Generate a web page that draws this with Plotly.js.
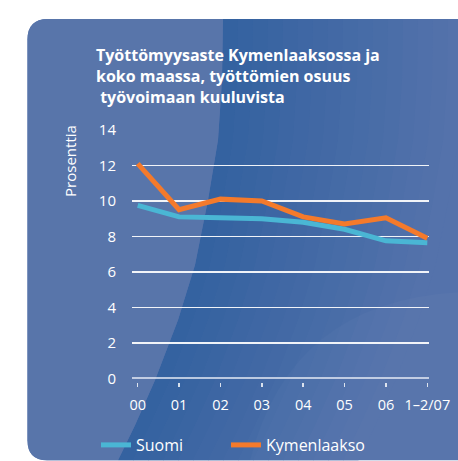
<!DOCTYPE html>
<html>
<head>
<meta charset="utf-8">
<script src="https://cdn.plot.ly/plotly-3.0.1.min.js"></script>
<style>
html,body{margin:0;padding:0;background:#fff;}
#chart{width:458px;height:461px;}
</style>
</head>
<body>
<div id="chart"></div>
<script>
// ---- data ----
const categories = ["00", "01", "02", "03", "04", "05", "06", "1–2/07"];
const suomi = [9.75, 9.1, 9.05, 9.0, 8.8, 8.4, 7.75, 7.65];
const kymenlaakso = [12.1, 9.5, 10.1, 10.0, 9.1, 8.7, 9.05, 7.9];
const yTicks = [0, 2, 4, 6, 8, 10, 12, 14];
const titleText = "Työttömyysaste Kymenlaaksossa ja<br>koko maassa, työttömien osuus<br> työvoimaan kuuluvista";
const yTitle = "Prosenttia";

// ---- geometry helpers (decoration only) ----
const W = 458, H = 461;
const PL = 132, PR = 429, PT = 129.1, PB = 381.8;
const fx = px => ((px - PL) / (PR - PL)).toFixed(4);
const fy = py => ((PB - py) / (PB - PT)).toFixed(4);
function pathFrom(cmds) {
  return cmds.map(c => c[0] + c.slice(1).map(p => fx(p[0]) + "," + fy(p[1])).join(" ")).join(" ");
}
function poly(points) {
  return points.map((p, i) => (i ? "L" : "M") + fx(p[0]) + "," + fy(p[1])).join(" ") + " Z";
}
const shapes = [];
// panel
shapes.push({type: "path", xref: "paper", yref: "paper", layer: "below", line: {width: 0},
  fillcolor: "rgb(84,114,171)",
  path: pathFrom([["M", [27.5, 40]], ["Q", [27.5, 19.3], [48, 19.3]], ["L", [448, 19.3]], ["Q", [458, 19.3], [462, 26]],
    ["L", [462, 460]], ["L", [47, 460]], ["Q", [27.5, 460], [27.5, 440]], ["Z"]])});
// diagonal gradient bands
const boundary = [[223, 19.3], [222, 80], [218, 140], [208, 200], [195, 265], [178, 320], [155, 380], [135, 425], [118, 460]];
const dark = [52, 98, 160], base = [84, 114, 171];
const N = 16, step = 15;
for (let i = 0; i < N; i++) {
  const t = i / (N - 1);
  const c = dark.map((d, k) => Math.round(d + (base[k] - d) * t));
  const a = boundary.map(p => [p[0] + i * step, p[1]]);
  const b = boundary.map(p => [p[0] + (i + 1) * step + 0.5, p[1]]).reverse();
  shapes.push({type: "path", xref: "paper", yref: "paper", layer: "below", line: {width: 0},
    fillcolor: "rgb(" + c.join(",") + ")", path: poly(a.concat(b))});
}
// faint lighter arc lower right
shapes.push({type: "path", xref: "paper", yref: "paper", layer: "below", line: {width: 0},
  fillcolor: "rgba(255,255,255,0.025)",
  path: pathFrom([["M", [250, 460]], ["Q", [290, 300], [462, 292]], ["L", [462, 460]], ["Z"]])});
// left light region
shapes.push({type: "path", xref: "paper", yref: "paper", layer: "below", line: {width: 0},
  fillcolor: "rgb(88,117,170)",
  path: pathFrom([["M", [27.5, 40]], ["Q", [27.5, 19.3], [48, 19.3]]].concat(boundary.map(p => ["L", p]))
    .concat([["L", [47, 460]], ["Q", [27.5, 460], [27.5, 440]], ["Z"]]))});

const traces = [
  {x: categories, y: suomi, name: "Suomi", type: "scatter", mode: "lines", legend: "legend",
   line: {color: "#4ab6d4", width: 5}},
  {x: categories, y: kymenlaakso, name: "Kymenlaakso", type: "scatter", mode: "lines", legend: "legend2",
   line: {color: "#f47a2b", width: 5}}
];

const font = "'Open Sans', 'Noto Sans', sans-serif";
const legendBase = {orientation: "h", xref: "container", yref: "container", xanchor: "left",
  y: 1 - 428 / H, yanchor: "top", font: {family: font, size: 16, color: "#ffffff"}, bgcolor: "rgba(0,0,0,0)"};
const layout = {
  width: W, height: H,
  margin: {l: PL, r: W - PR, t: PT, b: H - PB, pad: 0, autoexpand: false},
  paper_bgcolor: "#ffffff",
  plot_bgcolor: "rgba(0,0,0,0)",
  font: {family: font, color: "#ffffff", size: 15},
  title: {text: titleText, xref: "container", yref: "container", x: 96 / W, xanchor: "left",
    y: 1 - 61 / H, yanchor: "top", automargin: false,
    font: {family: font, size: 16, weight: 700, color: "#ffffff"}},
  showlegend: true,
  legend: Object.assign({}, legendBase, {x: 96 / W}),
  legend2: Object.assign({}, legendBase, {x: 226 / W}),
  xaxis: {type: "category", range: [-0.138, 7.041], showgrid: false, zeroline: false, showline: false,
    ticks: "outside", ticklen: 4, tickwidth: 1.5, tickcolor: "rgba(255,255,255,0.8)",
    tickfont: {family: font, size: 14.5, color: "#ffffff"}, ticklabelstandoff: 6, fixedrange: true},
  yaxis: {range: [-0.2, 14.05], tickvals: yTicks, ticktext: yTicks.map(String),
    showgrid: true, gridcolor: "rgba(255,255,255,0.92)", gridwidth: 1.2,
    zeroline: true, zerolinecolor: "rgba(230,235,245,0.75)", zerolinewidth: 2,
    showline: false, ticks: "", tickfont: {family: font, size: 15, color: "#ffffff"},
    ticklabelstandoff: 15, fixedrange: true},
  annotations: [
    {text: yTitle, xref: "paper", yref: "paper", x: fx(70), y: fy(161), xanchor: "center", yanchor: "middle",
     textangle: -90, showarrow: false, font: {family: font, size: 15, color: "#ffffff"}}
  ],
  shapes: shapes
};

Plotly.newPlot("chart", traces, layout, {displayModeBar: false, staticPlot: true});
</script>
</body>
</html>
